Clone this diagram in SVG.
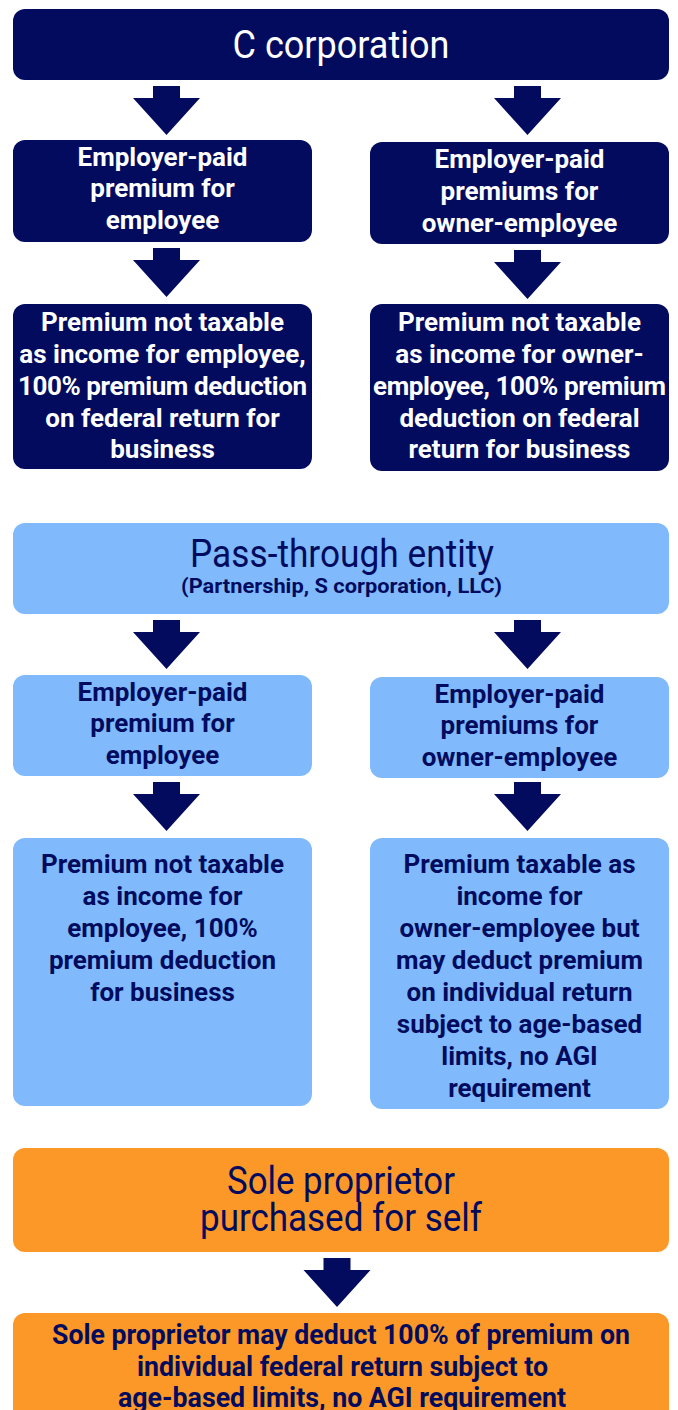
<svg xmlns="http://www.w3.org/2000/svg" width="678" height="1410" viewBox="0 0 678 1410">
<defs>
<style>
.navy{fill:#020b5e}
.lb{fill:#80bafd}
.or{fill:#fc9828}
.t{font-family:Roboto,"Liberation Sans",sans-serif;text-anchor:middle}
.h{font-size:38px;font-weight:400}
.b{font-size:26px;font-weight:700}
.w{fill:#ffffff}
.d{fill:#020b5e}
.arr{fill:#020b5e}
</style>
<path id="arrow" d="M-13.5,0 H13.5 V12 H33.5 L0,49 L-33.5,12 H-13.5 Z"/>
</defs>
<rect width="678" height="1410" fill="#ffffff"/>

<g id="connectors" class="arr">
<use href="#arrow" x="166.5" y="86"/>
<use href="#arrow" x="527.5" y="86"/>
<use href="#arrow" x="166.5" y="248"/>
<use href="#arrow" x="527.5" y="250"/>
<use href="#arrow" x="166.5" y="620"/>
<use href="#arrow" x="527.5" y="620"/>
<use href="#arrow" x="166.5" y="782"/>
<use href="#arrow" x="527.5" y="782"/>
<use href="#arrow" x="337" y="1258"/>
</g>

<g id="c-corp">
<rect class="navy" x="13" y="9" width="656" height="71" rx="12"/>
<text class="t h w" x="341" y="58" textLength="217" lengthAdjust="spacingAndGlyphs">C corporation</text>
</g>
<g id="c-emp">
<rect class="navy" x="13" y="140" width="299" height="102" rx="12"/>
<text class="t b w"><tspan x="162.5" y="166">Employer-paid</tspan><tspan x="162.5" y="197">premium for</tspan><tspan x="162.5" y="229">employee</tspan></text>
</g>
<g id="c-own">
<rect class="navy" x="370" y="142" width="299" height="102" rx="12"/>
<text class="t b w"><tspan x="519.5" y="168">Employer-paid</tspan><tspan x="519.5" y="200">premiums for</tspan><tspan x="519.5" y="232">owner-employee</tspan></text>
</g>
<g id="c-emp-result">
<rect class="navy" x="13" y="304" width="299" height="165" rx="12"/>
<text class="t b w"><tspan x="162.5" y="331">Premium not taxable</tspan><tspan x="162.5" y="363">as income for employee,</tspan><tspan x="162.5" y="395" textLength="289">100% premium deduction</tspan><tspan x="162.5" y="427">on federal return for</tspan><tspan x="162.5" y="458">business</tspan></text>
</g>
<g id="c-own-result">
<rect class="navy" x="370" y="304" width="299" height="167" rx="12"/>
<text class="t b w"><tspan x="519.5" y="331">Premium not taxable</tspan><tspan x="519.5" y="363">as income for owner-</tspan><tspan x="519.5" y="395" textLength="293">employee, 100% premium</tspan><tspan x="519.5" y="427">deduction on federal</tspan><tspan x="519.5" y="458">return for business</tspan></text>
</g>

<g id="pass-through">
<rect class="lb" x="13" y="523" width="656" height="91" rx="12"/>
<text class="t h d" x="342" y="567" textLength="304" lengthAdjust="spacingAndGlyphs">Pass-through entity</text>
<text class="t d" x="341.5" y="593" font-size="21" font-weight="700" textLength="321" lengthAdjust="spacingAndGlyphs">(Partnership, S corporation, LLC)</text>
</g>
<g id="p-emp">
<rect class="lb" x="13" y="675" width="299" height="101" rx="12"/>
<text class="t b d"><tspan x="162.5" y="701">Employer-paid</tspan><tspan x="162.5" y="732">premium for</tspan><tspan x="162.5" y="764">employee</tspan></text>
</g>
<g id="p-own">
<rect class="lb" x="370" y="677" width="299" height="101" rx="12"/>
<text class="t b d"><tspan x="519.5" y="703">Employer-paid</tspan><tspan x="519.5" y="734">premiums for</tspan><tspan x="519.5" y="766">owner-employee</tspan></text>
</g>
<g id="p-emp-result">
<rect class="lb" x="13" y="838" width="299" height="268" rx="12"/>
<text class="t b d"><tspan x="162.5" y="873">Premium not taxable</tspan><tspan x="162.5" y="905">as income for</tspan><tspan x="162.5" y="937">employee, 100%</tspan><tspan x="162.5" y="969">premium deduction</tspan><tspan x="162.5" y="1001">for business</tspan></text>
</g>
<g id="p-own-result">
<rect class="lb" x="370" y="838" width="299" height="271" rx="12"/>
<text class="t b d"><tspan x="519.5" y="873">Premium taxable as</tspan><tspan x="519.5" y="905">income for</tspan><tspan x="519.5" y="937">owner-employee but</tspan><tspan x="519.5" y="969">may deduct premium</tspan><tspan x="519.5" y="1001">on individual return</tspan><tspan x="519.5" y="1033">subject to age-based</tspan><tspan x="519.5" y="1065">limits, no AGI</tspan><tspan x="519.5" y="1097">requirement</tspan></text>
</g>

<g id="sole-prop">
<rect class="or" x="13" y="1148" width="656" height="104" rx="12"/>
<text class="t h d"><tspan x="341" y="1194" textLength="228" lengthAdjust="spacingAndGlyphs">Sole proprietor</tspan><tspan x="341" y="1231" textLength="282" lengthAdjust="spacingAndGlyphs">purchased for self</tspan></text>
</g>
<g id="sole-result">
<rect class="or" x="13" y="1313" width="656" height="120" rx="12"/>
<text class="t d" font-size="27" font-weight="700"><tspan x="341" y="1344" textLength="578" lengthAdjust="spacingAndGlyphs">Sole proprietor may deduct 100% of premium on</tspan><tspan x="342.5" y="1376" textLength="411" lengthAdjust="spacingAndGlyphs">individual federal return subject to</tspan><tspan x="342" y="1407" textLength="448" lengthAdjust="spacingAndGlyphs">age-based limits, no AGI requirement</tspan></text>
</g>
</svg>
